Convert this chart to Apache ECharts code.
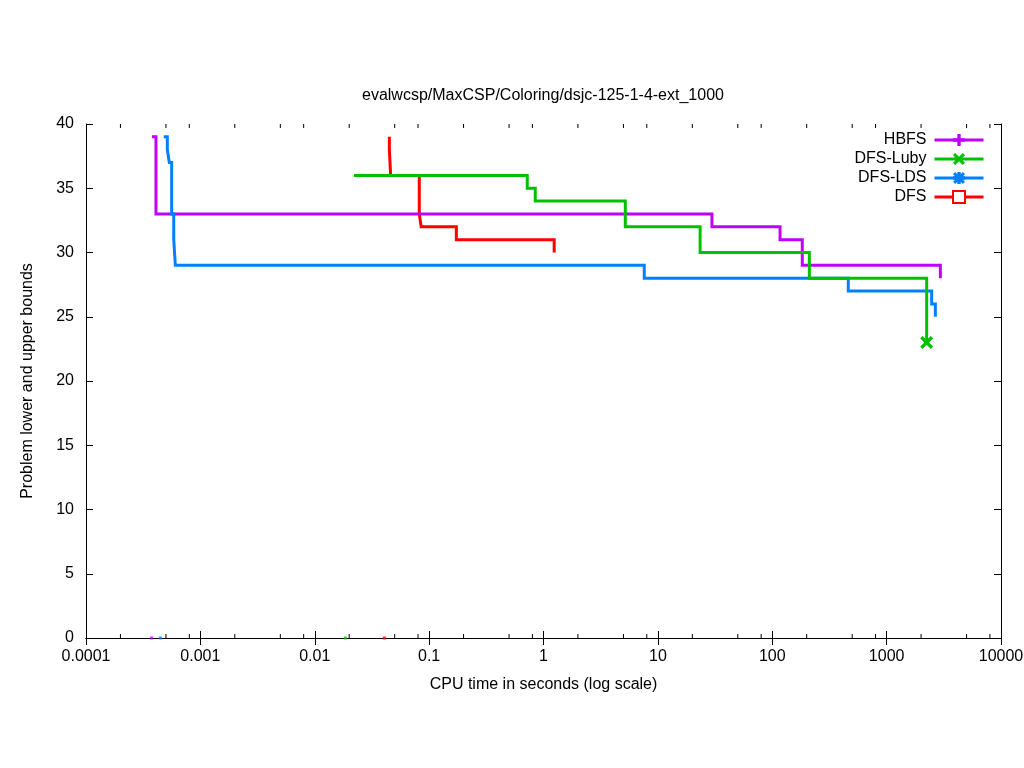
<!DOCTYPE html>
<html>
<head>
<meta charset="utf-8">
<script src="https://cdn.jsdelivr.net/npm/echarts@6/dist/echarts.min.js"></script>
<style>
  html, body { margin: 0; padding: 0; background: #fff; }
  #main { width: 1024px; height: 768px; }
</style>
</head>
<body>
<div id="main"></div>
<script>
// step data: time (s) where a bound starts, bound value
var hbfsT = [0.000377, 0.000409, 29.7, 117, 183, 2951];
var hbfsV = [39, 33, 32, 31, 29, 28];
var lubyT = [0.022, 0.721, 0.847, 5.19, 23.4, 211, 2240];
var lubyV = [36, 35, 34, 32, 30, 28, 23];
var ldsT = [0.000478, 0.000514, 0.000535, 0.000561, 0.000585, 0.000604, 7.6, 462, 2476, 2667];
var ldsV = [39, 38, 37, 33, 31, 29, 28, 27, 26, 25];
var dfsT = [0.0449, 0.0449, 0.0461, 0.082, 0.0852, 0.173, 1.24];
var dfsV = [39, 38, 36, 33, 32, 31, 30];

// lower bounds (all zero) for HBFS, DFS-Luby, DFS-LDS, DFS
var lbT = [0.000375, 0.0185, 0.000447, 0.0406];
var lbV = [0, 0, 0, 0];

var xTickLabels = ['0.0001', '0.001', '0.01', '0.1', '1', '10', '100', '1000', '10000'];
var minorTicks = [];
[0.0001, 0.001, 0.01, 0.1, 1, 10, 100, 1000].forEach(function (d) {
    minorTicks.push([2 * d], [5 * d], [8 * d]);
});

var names = ['HBFS', 'DFS-Luby', 'DFS-LDS', 'DFS'];
var colors = ['#c000ff', '#00c000', '#0080ff', '#ff0000'];

var FONT = 'Liberation Sans';
var PLUS = 'path://M3.6,0 H6.4 V3.6 H10 V6.4 H6.4 V10 H3.6 V6.4 H0 V3.6 H3.6 Z';
var CROSS = 'path://M0,1.8 L1.8,0 L5,3.2 L8.2,0 L10,1.8 L6.8,5 L10,8.2 L8.2,10 L5,6.8 L1.8,10 L0,8.2 L3.2,5 Z';
var STAR = PLUS + ' M0,1.8 L1.8,0 L5,3.2 L8.2,0 L10,1.8 L6.8,5 L10,8.2 L8.2,10 L5,6.8 L1.8,10 L0,8.2 L3.2,5 Z';

function stepData(ts, vs, markLast) {
    var out = [];
    for (var i = 0; i < ts.length; i++) {
        var item = {value: [ts[i], vs[i]]};
        if (!(markLast && i == ts.length - 1)) {
            item.symbol = 'none'
        }
        out.push(item)
    }
    return out
}

function lineSeries(idx, ts, vs, symbol, markLast) {
    return {
        name: names[idx],
        type: 'line',
        step: 'end',
        symbol: symbol,
        symbolSize: markLast ? 13 : 11,
        showAllSymbol: true,
        color: colors[idx],
        lineStyle: {width: 3, color: colors[idx], join: 'miter', cap: 'butt'},
        itemStyle: {color: colors[idx], borderColor: colors[idx], borderWidth: symbol == 'emptyRect' ? 2.5 : 0},
        emphasis: {disabled: true},
        animation: false,
        data: stepData(ts, vs, markLast)
    }
}

var myChart = echarts.init(document.getElementById('main'));

var axisBlack = {lineStyle: {color: '#000', width: 1}};

var option = {
    backgroundColor: '#fff',
    animation: false,
    title: {
        text: 'evalwcsp/MaxCSP/Coloring/dsjc-125-1-4-ext_1000',
        left: 357,
        top: 83,
        textStyle: {fontFamily: FONT, fontSize: 16, fontWeight: 'normal', color: '#000'}
    },
    legend: {
        data: names,
        orient: 'vertical',
        align: 'right',
        right: 39,
        top: 132,
        padding: 0,
        itemWidth: 49,
        itemHeight: 15,
        itemGap: 3,
        selectedMode: false,
        lineStyle: {width: 3},
        textStyle: {fontFamily: FONT, fontSize: 16, lineHeight: 16, color: '#000', padding: [0, 3, 0, 0]}
    },
    grid: {left: 86, right: 23, top: 124, bottom: 130, outerBoundsMode: 'none'},
    xAxis: [
        {
            type: 'log',
            logBase: 10,
            min: 0.0001,
            max: 10000,
            splitNumber: 8,
            position: 'bottom',
            axisLine: axisBlack,
            axisTick: {inside: true, length: 7, lineStyle: {color: '#000'}},
            splitLine: {show: false},
            axisLabel: {
                color: '#000', fontFamily: FONT, fontSize: 16, margin: 11,
                formatter: function (v) {
                    return xTickLabels[Math.round(Math.log10(v)) + 4]
                }
            },
            name: 'CPU time in seconds (log scale)',
            nameLocation: 'middle',
            nameGap: 39,
            nameTextStyle: {color: '#000', fontFamily: FONT, fontSize: 16}
        },
        {
            type: 'log',
            logBase: 10,
            min: 0.0001,
            max: 10000,
            splitNumber: 8,
            position: 'top',
            axisLine: axisBlack,
            axisTick: {inside: true, length: 7, lineStyle: {color: '#000'}},
            splitLine: {show: false},
            axisLabel: {show: false}
        }
    ],
    yAxis: [
        {
            type: 'value',
            min: 0,
            max: 40,
            interval: 5,
            position: 'left',
            axisLine: {show: true, lineStyle: {color: '#000', width: 1}},
            axisTick: {show: true, inside: true, length: 7, lineStyle: {color: '#000'}},
            splitLine: {show: false},
            axisLabel: {color: '#000', fontFamily: FONT, fontSize: 16, margin: 12},
            name: 'Problem lower and upper bounds',
            nameLocation: 'middle',
            nameGap: 50,
            nameTextStyle: {color: '#000', fontFamily: FONT, fontSize: 16}
        },
        {
            type: 'value',
            min: 0,
            max: 40,
            interval: 5,
            position: 'right',
            axisLine: {show: true, lineStyle: {color: '#000', width: 1}},
            axisTick: {show: true, inside: true, length: 7, lineStyle: {color: '#000'}},
            splitLine: {show: false},
            axisLabel: {show: false}
        }
    ],
    series: [
        // draw order matches the picture: DFS under HBFS under DFS-LDS under DFS-Luby
        lineSeries(3, dfsT, dfsV, 'emptyRect', false),
        lineSeries(0, hbfsT, hbfsV, PLUS, false),
        lineSeries(2, ldsT, ldsV, STAR, false),
        lineSeries(1, lubyT, lubyV, CROSS, true),
        {
            name: 'lower',
            type: 'scatter',
            symbol: 'rect',
            symbolSize: 3,
            clip: false,
            silent: true,
            z: 5,
            data: lbT.map(function (t, i) {
                return {value: [t, lbV[i]], itemStyle: {color: colors[i]}}
            })
        },
        {
            name: 'minor',
            type: 'custom',
            silent: true,
            clip: false,
            z: 6,
            data: minorTicks,
            renderItem: function (params, api) {
                var b = api.coord([api.value(0), 0]);
                var t = api.coord([api.value(0), 40]);
                var st = {stroke: '#000', lineWidth: 1};
                return {
                    type: 'group',
                    children: [
                        {type: 'line', shape: {x1: b[0], y1: b[1], x2: b[0], y2: b[1] - 4}, style: st},
                        {type: 'line', shape: {x1: t[0], y1: t[1], x2: t[0], y2: t[1] + 4}, style: st}
                    ]
                }
            }
        }
    ]
};

myChart.setOption(option);
</script>
</body>
</html>
